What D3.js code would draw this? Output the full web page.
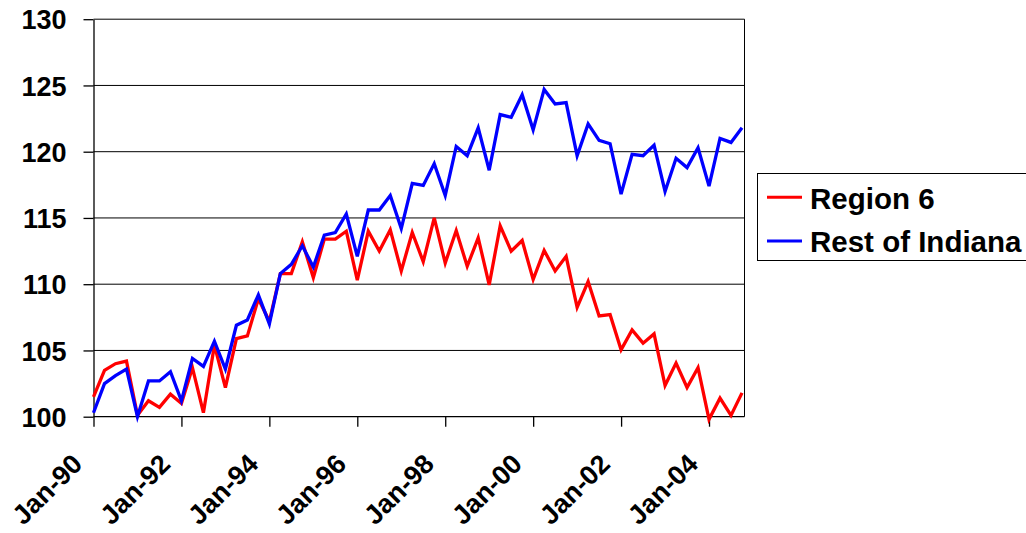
<!DOCTYPE html>
<html>
<head>
<meta charset="utf-8">
<script src="https://cdn.jsdelivr.net/npm/d3@7"></script>
<style>
  html, body { margin: 0; padding: 0; background: #fff; }
  svg { display: block; }
  text { font-family: "Liberation Sans", Arial, sans-serif; font-weight: bold; fill: #000; }
</style>
</head>
<body>
<svg id="chart" width="1026" height="533"></svg>
<script>
// Quarterly index, Jan-90 .. Oct-04
const startYear = 1990;
const quarters = d3.range(60).map(i => ({ year: startYear + Math.floor(i / 4), q: i % 4 }));
const region6 = [
  101.5, 103.5, 104.0, 104.2, 100.1, 101.2, 100.7, 101.7, 101.0, 103.7,
  100.3, 105.4, 102.2, 105.9, 106.1, 108.9, 107.2, 110.8, 110.8, 113.2,
  110.5, 113.4, 113.4, 114.0, 110.3, 114.0, 112.5, 114.1, 111.0, 113.9,
  111.7, 115.0, 111.6, 114.05, 111.35, 113.5, 109.95, 114.4, 112.5, 113.3,
  110.35, 112.55, 111.0, 112.1, 108.25, 110.2, 107.6, 107.7, 105.05, 106.55,
  105.55, 106.25, 102.35, 104.05, 102.2, 103.7, 99.8, 101.4, 100.1, 101.8
];
const restOfIndiana = [
  100.3, 102.5, 103.1, 103.6, 100.0, 102.7, 102.7, 103.4, 101.2, 104.4,
  103.8, 105.7, 103.6, 106.9, 107.3, 109.2, 107.0, 110.8, 111.5, 112.9,
  111.3, 113.7, 113.9, 115.3, 112.1, 115.6, 115.6, 116.7, 114.2, 117.6,
  117.45, 119.1, 116.7, 120.4, 119.7, 121.8, 118.6, 122.8, 122.6, 124.3,
  121.65, 124.7, 123.6, 123.7, 119.7, 122.1, 120.85, 120.6, 116.8, 119.8,
  119.7, 120.5, 117.0, 119.5, 118.8, 120.3, 117.4, 121.0, 120.7, 121.8
];
const yTicks = [100, 105, 110, 115, 120, 125, 130];
const xTickLabels = ["Jan-90", "Jan-92", "Jan-94", "Jan-96", "Jan-98", "Jan-00", "Jan-02", "Jan-04"];
const xTickIndex = [0, 8, 16, 24, 32, 40, 48, 56];
const seriesNames = ["Region 6", "Rest of Indiana"];
const seriesColors = ["#ff0000", "#0000ff"];

const svg = d3.select("#chart");
const x = d3.scaleLinear().domain([0, 59]).range([93.5, 742]);
const y = d3.scaleLinear().domain([100, 130]).range([416.7, 19.2]);
const plotRight = 744.5;

// gridlines
svg.append("g").selectAll("line").data(yTicks.filter(v => v > 100)).join("line")
  .attr("x1", x(0)).attr("x2", plotRight)
  .attr("y1", d => y(d)).attr("y2", d => y(d))
  .attr("stroke", "#000").attr("stroke-width", 1);

// right border of plot area
svg.append("line").attr("x1", plotRight).attr("x2", plotRight)
  .attr("y1", y(130)).attr("y2", y(100)).attr("stroke", "#000").attr("stroke-width", 1);

// y axis
const yAxis = d3.axisLeft(y).tickValues(yTicks).tickSize(10).tickSizeOuter(0)
  .tickPadding(17).tickFormat(d3.format("d"));
const gy = svg.append("g").attr("transform", `translate(${x(0)},0)`).call(yAxis);
gy.select(".domain").attr("stroke", "#000").attr("stroke-width", 1.3);
gy.selectAll(".tick line").attr("stroke", "#000").attr("stroke-width", 1.3);
gy.selectAll(".tick text").attr("font-size", 27).attr("dy", "0.36em")
  .style("font-family", '"Liberation Sans", Arial, sans-serif').style("font-weight", "bold");

// x axis
const xAxis = d3.axisBottom(x).tickValues(xTickIndex).tickSize(10).tickSizeOuter(0)
  .tickFormat((d, i) => xTickLabels[i]);
const gx = svg.append("g").attr("transform", `translate(0,${y(100)})`).call(xAxis);
gx.select(".domain").attr("d", `M${x(0)},0H${plotRight}`)
  .attr("stroke", "#000").attr("stroke-width", 1.3);
gx.selectAll(".tick line").attr("stroke", "#000").attr("stroke-width", 1.3);
gx.selectAll(".tick text")
  .attr("font-size", 27)
  .attr("text-anchor", "end")
  .attr("y", 0).attr("dy", 0)
  .attr("transform", "translate(-10,49) rotate(-45)")
  .style("font-family", '"Liberation Sans", Arial, sans-serif').style("font-weight", "bold");

// lines
const line = d3.line().x((d, i) => x(i)).y(d => y(d));
[region6, restOfIndiana].forEach((s, k) => {
  svg.append("path").datum(s)
    .attr("d", line)
    .attr("fill", "none")
    .attr("stroke", seriesColors[k])
    .attr("stroke-width", 3.3)
    .attr("stroke-linejoin", "miter");
});

// legend
const lg = svg.append("g");
lg.append("rect").attr("x", 757.5).attr("y", 173.5).attr("width", 300).attr("height", 87)
  .attr("fill", "#fff").attr("stroke", "#000").attr("stroke-width", 1);
const rows = [{ ly: 197.3, ty: 209.3 }, { ly: 241, ty: 251.7 }];
seriesNames.forEach((n, k) => {
  lg.append("line").attr("x1", 767).attr("x2", 802)
    .attr("y1", rows[k].ly).attr("y2", rows[k].ly)
    .attr("stroke", seriesColors[k]).attr("stroke-width", 3);
  lg.append("text").attr("x", 810).attr("y", rows[k].ty)
    .attr("font-size", 29.5).text(n);
});
</script>
</body>
</html>
